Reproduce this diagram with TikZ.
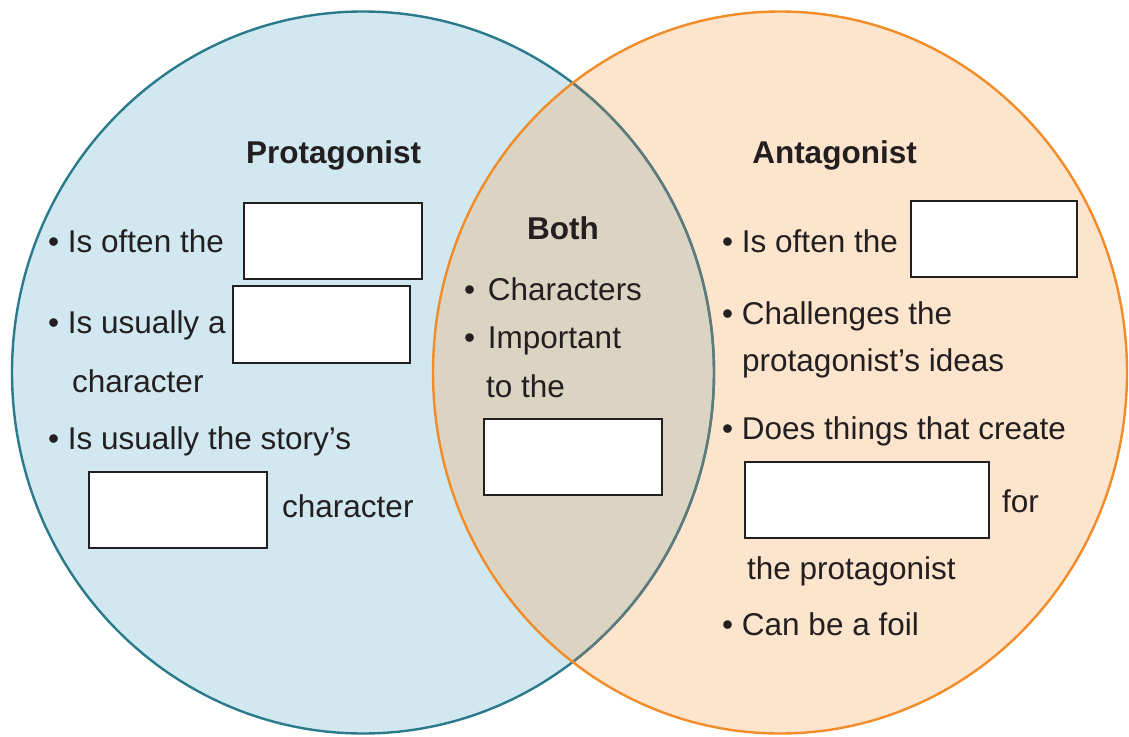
\documentclass[tikz,border=0pt]{standalone}
\usepackage{fontspec}
\setmainfont{Liberation Sans}
\definecolor{lblue}{HTML}{D1E8F0}
\definecolor{teal}{HTML}{2B7A8B}
\definecolor{peach}{HTML}{FDE4CC}
\definecolor{orng}{HTML}{F28C28}
\definecolor{ovl}{HTML}{DBD4C2}
\definecolor{greyarc}{HTML}{5F7A7A}
\definecolor{ink}{HTML}{231F20}
\begin{document}
\begin{tikzpicture}[x=1pt,y=-1pt,
  txt/.style={anchor=base west, inner sep=0pt, text=ink, font=\fontsize{31.5}{36}\selectfont},
  ttl/.style={anchor=base, inner sep=0pt, text=ink, font=\fontsize{31.5}{36}\selectfont\bfseries},
  blank/.style={draw=ink, fill=white, line width=2.4pt, inner sep=0pt},
  lcirc/.style={x radius=351pt, y radius=361pt},
  rcirc/.style={x radius=347pt, y radius=361pt}]
\useasboundingbox (0,0) rectangle (1129,736);
% circles
\fill[lblue] (363,372.5) ellipse [lcirc];
\fill[peach] (780,372.5) ellipse [rcirc];
\begin{scope}
  \clip (363,372.5) ellipse [lcirc];
  \fill[ovl] (780,372.5) ellipse [rcirc];
\end{scope}
\draw[teal, line width=2.4pt] (363,372.5) ellipse [lcirc];
\begin{scope}
  \clip (780,372.5) ellipse [rcirc];
  \draw[greyarc, line width=2.4pt] (363,372.5) ellipse [lcirc];
\end{scope}
\draw[orng, line width=2.4pt] (780,372.5) ellipse [rcirc];
% titles
\node[ttl] (tp) at (333.5,163) {Protagonist};
\node[ttl] (tb) at (563,239) {Both};
\node[ttl] (ta) at (834.5,163) {Antagonist};
% left texts
\node[txt] (l1) at (48,252.5) {• Is often the};
\node[blank, minimum width=178pt, minimum height=76pt] (b1) at (333,241) {};
\node[txt] (l2) at (48,333) {• Is usually a};
\node[blank, minimum width=177pt, minimum height=77pt] (b2) at (321.5,324.5) {};
\node[txt] (l2b) at (72,392) {character};
\node[txt] (l3) at (48,449) {• Is usually the story’s};
\node[blank, minimum width=178pt, minimum height=76pt] (b3) at (178,510) {};
\node[txt] (l3b) at (282,517) {character};
% middle texts
\node[txt] (m1) at (464,300) {•\hspace{4pt} Characters};
\node[txt] (m2) at (464,348) {•\hspace{4pt} Important};
\node[txt] (m2b) at (486,397) {to the};
\node[blank, minimum width=178pt, minimum height=76pt] (b4) at (573,457) {};
% right texts
\node[txt] (r1) at (722,252) {• Is often the};
\node[blank, minimum width=166pt, minimum height=76pt] (b5) at (994,239) {};
\node[txt] (r2) at (722,324) {• Challenges the};
\node[txt] (r2b) at (742,371) {protagonist’s ideas};
\node[txt] (r3) at (722,439) {• Does things that create};
\node[blank, minimum width=244pt, minimum height=76pt] (b6) at (867,500) {};
\node[txt] (r3b) at (1002,512) {for};
\node[txt] (r3c) at (747,579) {the protagonist};
\node[txt] (r4) at (722,635) {• Can be a foil};
\end{tikzpicture}
\end{document}
